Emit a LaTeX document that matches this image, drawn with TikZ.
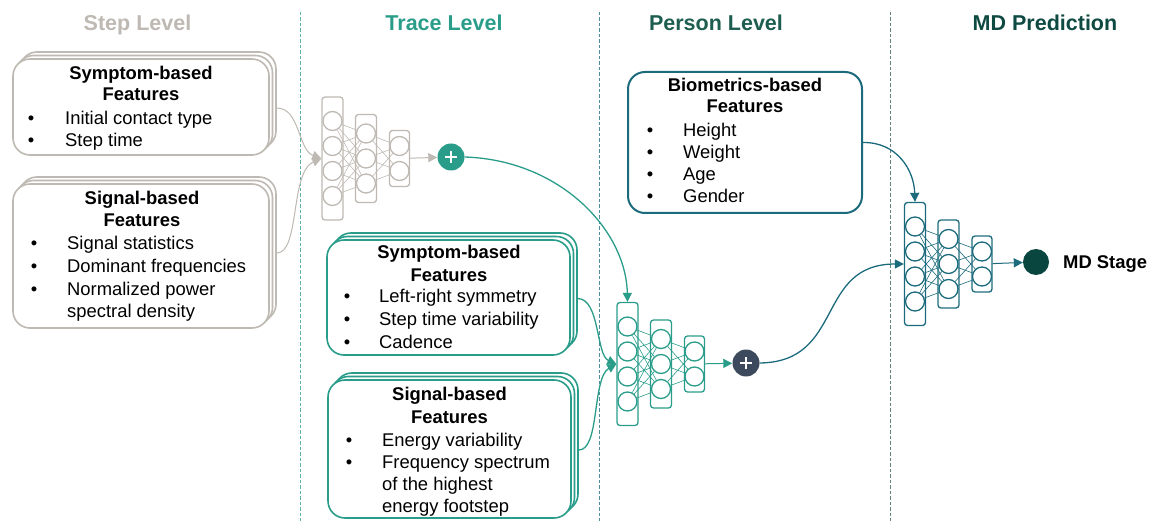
\documentclass[tikz,border=0pt]{standalone}
\usepackage{fontspec}
\setmainfont{Liberation Sans}
\usetikzlibrary{arrows.meta,fit}
\definecolor{grayc}{RGB}{190,185,178}
\definecolor{tealc}{RGB}{42,157,138}
\definecolor{persong}{RGB}{30,94,80}
\definecolor{mdtitle}{RGB}{14,74,66}
\definecolor{bluet}{RGB}{28,107,125}
\definecolor{slatec}{RGB}{61,74,94}
\definecolor{mddark}{RGB}{10,70,64}
\definecolor{dashA}{RGB}{90,180,165}
\definecolor{dashB}{RGB}{80,140,155}
\definecolor{dashC}{RGB}{100,130,125}

\tikzset{
  txt/.style={inner sep=0pt, font=\fontsize{18.4}{22}\selectfont},
  btxt/.style={inner sep=0pt, font=\fontsize{18.4}{22}\selectfont\bfseries},
  ttl/.style={inner sep=0pt, anchor=base, font=\fontsize{21.5}{26}\selectfont\bfseries},
  sbox/.style={rounded corners=17pt, line width=1.6pt, fill=white, inner sep=0pt},
  layer/.style={rectangle, rounded corners=3pt, line width=1.3pt, inner sep=0pt},
  neuron/.style={circle, minimum size=19pt, line width=1.3pt, inner sep=0pt},
  conn/.style={line width=0.6pt},
  arr/.style={line width=1.3pt, -{Triangle[length=9pt,width=9pt]}},
  sep/.style={line width=1.2pt, dash pattern=on 3.5pt off 2pt},
  plusc/.style={circle, inner sep=0pt, minimum size=27pt},
}

% #1 prefix, #2 x of layer 1, #3 center y, #4 colour
\newcommand\mynnet[4]{%
  \node[layer, draw=#4, minimum width=21pt, minimum height=123pt] (#1L1) at (#2,#3) {};
  \node[layer, draw=#4, minimum width=21pt, minimum height=88pt] (#1L2) at ({#2+33.5},#3) {};
  \node[layer, draw=#4, minimum width=20pt, minimum height=56pt] (#1L3) at ({#2+67},#3) {};
  \foreach \i/\dy in {1/-37.5,2/-12.5,3/12.5,4/37.5}
    \node[neuron, draw=#4] (#1a\i) at (#2,{#3+(\dy)}) {};
  \foreach \j/\dy in {1/-25,2/0,3/25}
    \node[neuron, draw=#4] (#1b\j) at ({#2+33.5},{#3+(\dy)}) {};
  \foreach \k/\dy in {1/-12.5,2/12.5}
    \node[neuron, draw=#4] (#1c\k) at ({#2+67},{#3+(\dy)}) {};
  \foreach \i in {1,...,4}
    \foreach \j in {1,2,3}
      \draw[conn, draw=#4] (#1a\i) -- (#1b\j);
  \foreach \j in {1,2,3}
    \foreach \k in {1,2}
      \draw[conn, draw=#4] (#1b\j) -- (#1c\k);
}

% #1 name, #2 x1, #3 y1, #4 x2, #5 y2, #6 colour
\newcommand\mystack[6]{%
  \node[sbox, draw=#6, fit={({#2+7},{#3-7}) ({#4+7},{#5-7})}] (#1b) {};
  \node[sbox, draw=#6, fit={({#2+3.5},{#3-3.5}) ({#4+3.5},{#5-3.5})}] (#1m) {};
  \node[sbox, draw=#6, fit={(#2,#3) (#4,#5)}] (#1) {};
}

\begin{document}
\begin{tikzpicture}[x=1pt,y=-1pt]
\useasboundingbox (0,0) rectangle (1151,521);

% titles
\node[ttl, text=grayc] (t1) at (137.5,31) {Step Level};
\node[ttl, text=tealc] (t2) at (444,31) {Trace Level};
\node[ttl, text=persong] (t3) at (716,31) {Person Level};
\node[ttl, text=mdtitle] (t4) at (1045,31) {MD Prediction};

% separators
\draw[sep, dashA] (300.5,12) -- (300.5,521);
\draw[sep, dashB] (599.5,12) -- (599.5,521);
\draw[sep, dashC] (890.5,12) -- (890.5,521);

% ---------- Step level boxes
\mystack{ss}{13}{59}{269}{155}{grayc}
\node[btxt, anchor=base] (ss1) at (141,80) {Symptom-based};
\node[btxt, anchor=base] (ss2) at (141,101) {Features};
\node[txt, anchor=base] (ssb1) at (31,125) {•};
\node[txt, anchor=base west] (sst1) at (65,125) {Initial contact type};
\node[txt, anchor=base] (ssb2) at (31,147) {•};
\node[txt, anchor=base west] (sst2) at (65,147) {Step time};

\mystack{sg}{13}{184}{269}{328}{grayc}
\node[btxt, anchor=base] (sg1) at (142,205) {Signal-based};
\node[btxt, anchor=base] (sg2) at (142,227) {Features};
\node[txt, anchor=base] (sgb1) at (34,250) {•};
\node[txt, anchor=base west] (sgt1) at (67,250) {Signal statistics};
\node[txt, anchor=base] (sgb2) at (34,272.5) {•};
\node[txt, anchor=base west] (sgt2) at (67,272.5) {Dominant frequencies};
\node[txt, anchor=base] (sgb3) at (34,295) {•};
\node[txt, anchor=base west] (sgt3) at (67,295) {Normalized power};
\node[txt, anchor=base west] (sgt4) at (67,317) {spectral density};

% ---------- Trace level
\mynnet{g}{332.5}{158.5}{grayc}
\node[plusc, fill=tealc] (p1) at (451,157) {};
\draw[white, line width=2pt] ([xshift=-6pt]p1.center) -- ([xshift=6pt]p1.center);
\draw[white, line width=2pt] ([yshift=-6pt]p1.center) -- ([yshift=6pt]p1.center);
\draw[arr, grayc, line width=1pt] (gL3) -- (p1);

\draw[arr, grayc, line width=1pt] ([yshift=-8pt]ssb.east) .. controls (300,108) and (298,150) .. (gL1.west);
\draw[arr, grayc, line width=1pt] ([yshift=-4pt]sgb.east) .. controls (300,253) and (290,172) .. (gL1.west);

\mystack{ts}{327}{240}{570}{355}{tealc}
\node[btxt, anchor=base] (ts1) at (449,259) {Symptom-based};
\node[btxt, anchor=base] (ts2) at (449,282) {Features};
\node[txt, anchor=base] (tsb1) at (347,303) {•};
\node[txt, anchor=base west] (tst1) at (379,303) {Left-right symmetry};
\node[txt, anchor=base] (tsb2) at (347,326) {•};
\node[txt, anchor=base west] (tst2) at (379,326) {Step time variability};
\node[txt, anchor=base] (tsb3) at (347,348) {•};
\node[txt, anchor=base west] (tst3) at (379,348) {Cadence};

\mystack{tg}{328}{380}{571}{518}{tealc}
\node[btxt, anchor=base] (tg1) at (449.5,400) {Signal-based};
\node[btxt, anchor=base] (tg2) at (449.5,423) {Features};
\node[txt, anchor=base] (tgb1) at (349,446) {•};
\node[txt, anchor=base west] (tgt1) at (382,446) {Energy variability};
\node[txt, anchor=base] (tgb2) at (349,468) {•};
\node[txt, anchor=base west] (tgt2) at (382,468) {Frequency spectrum};
\node[txt, anchor=base west] (tgt3) at (382,490) {of the highest};
\node[txt, anchor=base west] (tgt4) at (382,512) {energy footstep};

% ---------- Person level
\mynnet{t}{627.5}{364}{tealc}
\node[plusc, fill=slatec] (p2) at (746,363) {};
\draw[white, line width=2pt] ([xshift=-6pt]p2.center) -- ([xshift=6pt]p2.center);
\draw[white, line width=2pt] ([yshift=-6pt]p2.center) -- ([yshift=6pt]p2.center);
\draw[arr, tealc, line width=1pt] (tL3) -- (p2);

\draw[arr, tealc] (p1.east) .. controls (560,160) and (626,230) .. (tL1.north);
\draw[arr, tealc] ([yshift=-8pt]tsb.east) .. controls (600,299) and (596,355) .. (tL1.west);
\draw[arr, tealc] ([yshift=-8pt]tgb.east) .. controls (600,450) and (592,378) .. (tL1.west);

\node[sbox, draw=bluet, line width=2pt, fit={(628,72) (862,213)}] (bio) {};
\node[btxt, anchor=base] (bio1) at (745,92) {Biometrics-based};
\node[btxt, anchor=base] (bio2) at (745,113) {Features};
\node[txt, anchor=base] (biob1) at (650,137) {•};
\node[txt, anchor=base west] (biot1) at (683,137) {Height};
\node[txt, anchor=base] (biob2) at (650,159) {•};
\node[txt, anchor=base west] (biot2) at (683,159) {Weight};
\node[txt, anchor=base] (biob3) at (650,181) {•};
\node[txt, anchor=base west] (biot3) at (683,181) {Age};
\node[txt, anchor=base] (biob4) at (650,203) {•};
\node[txt, anchor=base west] (biot4) at (683,203) {Gender};

% ---------- MD prediction
\mynnet{m}{915}{264}{bluet}
\node[circle, fill=mddark, inner sep=0pt, minimum size=26pt] (md) at (1036,262) {};
\node[btxt, anchor=base west] (mdl) at (1063,268.5) {MD Stage};
\draw[arr, bluet, line width=1pt] (mL3) -- (md);

\draw[arr, bluet] (bio.east) .. controls (897,142) and (914,170) .. (mL1.north);
\draw[arr, bluet] (p2.east) .. controls (845,362) and (815,264) .. (mL1.west);
\end{tikzpicture}
\end{document}
